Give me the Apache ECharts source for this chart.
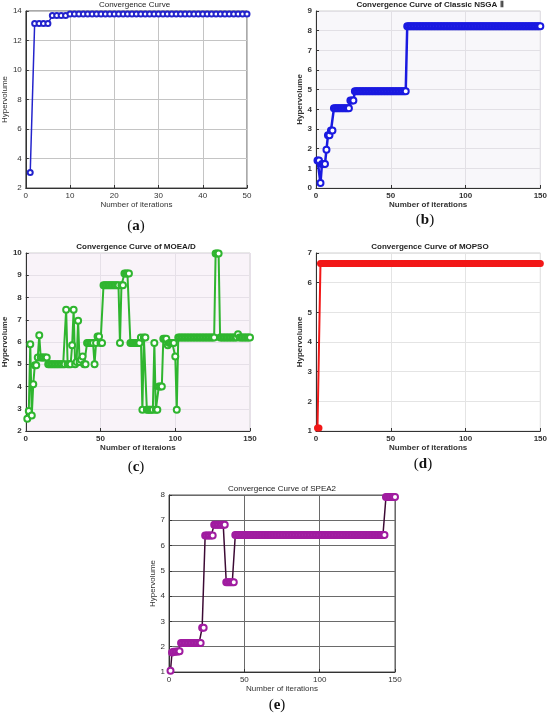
<!DOCTYPE html>
<html>
<head>
<meta charset="utf-8">
<script src="https://cdn.jsdelivr.net/npm/echarts@6/dist/echarts.min.js"></script>
<style>
html,body{margin:0;padding:0;background:#fff;}
#main{width:550px;height:721px;}
</style>
</head>
<body>
<div id="main"></div>
<script>
// hypervolume per iteration
var hvA = [
  3.05, 13.15, 13.15, 13.15, 13.15, 13.7, 13.7, 13.7, 13.7, 13.8,
  13.8, 13.8, 13.8, 13.8, 13.8, 13.8, 13.8, 13.8, 13.8, 13.8,
  13.8, 13.8, 13.8, 13.8, 13.8, 13.8, 13.8, 13.8, 13.8, 13.8,
  13.8, 13.8, 13.8, 13.8, 13.8, 13.8, 13.8, 13.8, 13.8, 13.8,
  13.8, 13.8, 13.8, 13.8, 13.8, 13.8, 13.8, 13.8, 13.8, 13.8
];
var hvB = [
  1.4, 1.4, 0.25, 1.22, 1.22, 1.22, 1.95, 2.68, 2.68, 2.92,
  2.92, 4.05, 4.05, 4.05, 4.05, 4.05, 4.05, 4.05, 4.05, 4.05,
  4.05, 4.05, 4.45, 4.45, 4.45, 4.92, 4.92, 4.92, 4.92, 4.92,
  4.92, 4.92, 4.92, 4.92, 4.92, 4.92, 4.92, 4.92, 4.92, 4.92,
  4.92, 4.92, 4.92, 4.92, 4.92, 4.92, 4.92, 4.92, 4.92, 4.92,
  4.92, 4.92, 4.92, 4.92, 4.92, 4.92, 4.92, 4.92, 4.92, 4.92,
  8.22, 8.22, 8.22, 8.22, 8.22, 8.22, 8.22, 8.22, 8.22, 8.22,
  8.22, 8.22, 8.22, 8.22, 8.22, 8.22, 8.22, 8.22, 8.22, 8.22,
  8.22, 8.22, 8.22, 8.22, 8.22, 8.22, 8.22, 8.22, 8.22, 8.22,
  8.22, 8.22, 8.22, 8.22, 8.22, 8.22, 8.22, 8.22, 8.22, 8.22,
  8.22, 8.22, 8.22, 8.22, 8.22, 8.22, 8.22, 8.22, 8.22, 8.22,
  8.22, 8.22, 8.22, 8.22, 8.22, 8.22, 8.22, 8.22, 8.22, 8.22,
  8.22, 8.22, 8.22, 8.22, 8.22, 8.22, 8.22, 8.22, 8.22, 8.22,
  8.22, 8.22, 8.22, 8.22, 8.22, 8.22, 8.22, 8.22, 8.22, 8.22,
  8.22, 8.22, 8.22, 8.22, 8.22, 8.22, 8.22, 8.22, 8.22, 8.22
];
var hvC = [
  2.55, 2.9, 5.9, 2.7, 4.1, 4.95, 4.95, 5.3, 6.3, 5.3,
  5.3, 5.3, 5.3, 5.3, 5.0, 5.0, 5.0, 5.0, 5.0, 5.0,
  5.0, 5.0, 5.0, 5.0, 5.0, 5.0, 7.45, 5.0, 5.0, 5.0,
  5.85, 7.45, 5.0, 5.1, 6.95, 5.1, 5.2, 5.35, 5.0, 5.0,
  5.95, 5.95, 5.95, 5.95, 5.95, 5.0, 5.95, 6.25, 6.25, 5.95,
  5.95, 8.55, 8.55, 8.55, 8.55, 8.55, 8.55, 8.55, 8.55, 8.55,
  8.55, 8.55, 5.95, 8.55, 8.55, 9.08, 9.08, 9.08, 9.08, 5.95,
  5.95, 5.95, 5.95, 5.95, 5.95, 5.95, 6.2, 2.95, 6.2, 6.2,
  2.95, 2.95, 2.95, 2.95, 2.95, 5.95, 2.95, 2.95, 4.0, 4.0,
  4.0, 6.15, 6.15, 6.15, 5.85, 5.95, 5.95, 5.95, 5.95, 5.35,
  2.95, 6.2, 6.2, 6.2, 6.2, 6.2, 6.2, 6.2, 6.2, 6.2,
  6.2, 6.2, 6.2, 6.2, 6.2, 6.2, 6.2, 6.2, 6.2, 6.2,
  6.2, 6.2, 6.2, 6.2, 6.2, 6.2, 9.98, 9.98, 9.98, 6.2,
  6.2, 6.2, 6.2, 6.2, 6.2, 6.2, 6.2, 6.2, 6.2, 6.2,
  6.2, 6.35, 6.2, 6.2, 6.2, 6.2, 6.2, 6.2, 6.2, 6.2
];
var hvD = [
  1.1, 1.1, 6.65, 6.65, 6.65, 6.65, 6.65, 6.65, 6.65, 6.65,
  6.65, 6.65, 6.65, 6.65, 6.65, 6.65, 6.65, 6.65, 6.65, 6.65,
  6.65, 6.65, 6.65, 6.65, 6.65, 6.65, 6.65, 6.65, 6.65, 6.65,
  6.65, 6.65, 6.65, 6.65, 6.65, 6.65, 6.65, 6.65, 6.65, 6.65,
  6.65, 6.65, 6.65, 6.65, 6.65, 6.65, 6.65, 6.65, 6.65, 6.65,
  6.65, 6.65, 6.65, 6.65, 6.65, 6.65, 6.65, 6.65, 6.65, 6.65,
  6.65, 6.65, 6.65, 6.65, 6.65, 6.65, 6.65, 6.65, 6.65, 6.65,
  6.65, 6.65, 6.65, 6.65, 6.65, 6.65, 6.65, 6.65, 6.65, 6.65,
  6.65, 6.65, 6.65, 6.65, 6.65, 6.65, 6.65, 6.65, 6.65, 6.65,
  6.65, 6.65, 6.65, 6.65, 6.65, 6.65, 6.65, 6.65, 6.65, 6.65,
  6.65, 6.65, 6.65, 6.65, 6.65, 6.65, 6.65, 6.65, 6.65, 6.65,
  6.65, 6.65, 6.65, 6.65, 6.65, 6.65, 6.65, 6.65, 6.65, 6.65,
  6.65, 6.65, 6.65, 6.65, 6.65, 6.65, 6.65, 6.65, 6.65, 6.65,
  6.65, 6.65, 6.65, 6.65, 6.65, 6.65, 6.65, 6.65, 6.65, 6.65,
  6.65, 6.65, 6.65, 6.65, 6.65, 6.65, 6.65, 6.65, 6.65, 6.65
];
var hvE = [
  1.05, 1.77, 1.8, 1.8, 1.81, 1.81, 1.82, 2.15, 2.15, 2.15,
  2.15, 2.15, 2.15, 2.15, 2.15, 2.15, 2.15, 2.15, 2.15, 2.15,
  2.15, 2.75, 2.75, 6.4, 6.4, 6.4, 6.4, 6.4, 6.4, 6.82,
  6.82, 6.82, 6.82, 6.82, 6.82, 6.82, 6.82, 4.55, 4.55, 4.55,
  4.55, 4.55, 4.55, 6.42, 6.42, 6.42, 6.42, 6.42, 6.42, 6.42,
  6.42, 6.42, 6.42, 6.42, 6.42, 6.42, 6.42, 6.42, 6.42, 6.42,
  6.42, 6.42, 6.42, 6.42, 6.42, 6.42, 6.42, 6.42, 6.42, 6.42,
  6.42, 6.42, 6.42, 6.42, 6.42, 6.42, 6.42, 6.42, 6.42, 6.42,
  6.42, 6.42, 6.42, 6.42, 6.42, 6.42, 6.42, 6.42, 6.42, 6.42,
  6.42, 6.42, 6.42, 6.42, 6.42, 6.42, 6.42, 6.42, 6.42, 6.42,
  6.42, 6.42, 6.42, 6.42, 6.42, 6.42, 6.42, 6.42, 6.42, 6.42,
  6.42, 6.42, 6.42, 6.42, 6.42, 6.42, 6.42, 6.42, 6.42, 6.42,
  6.42, 6.42, 6.42, 6.42, 6.42, 6.42, 6.42, 6.42, 6.42, 6.42,
  6.42, 6.42, 6.42, 6.42, 6.42, 6.42, 6.42, 6.42, 6.42, 6.42,
  6.42, 6.42, 6.42, 7.92, 7.92, 7.92, 7.92, 7.92, 7.92, 7.92
];

var titles = ['Convergence Curve', 'Convergence Curve of Classic NSGA Ⅱ', 'Convergence Curve of MOEA/D', 'Convergence Curve of MOPSO', 'Convergence Curve of SPEA2'];
var xNames = ['Number of iterations', 'Number of iterations', 'Number of iteraions', 'Number of iterations', 'Number of iterations'];
var yRanges = [[2, 14, 2], [0, 9, 1], [2, 10, 1], [1, 7, 1], [1, 8, 1]];
var xRanges = [[0, 50, 10], [0, 150, 50], [0, 150, 50], [0, 150, 50], [0, 150, 50]];
var panelTags = ['a', 'b', 'c', 'd', 'e'];

var FONT = '"Liberation Sans", Arial, sans-serif';

// layout of each panel: plot box, title spot, tag spot, y-name gap
var boxes = [
  {left: 22, top: 11, width: 225, height: 177, bg: '#ffffff', grid: '#c4c4c4', frame: '#555', bold: 'normal'},
  {left: 316, top: 11, width: 228, height: 177, bg: '#f8f7fa', grid: '#e2e0e5', frame: '#d0d0d0', bold: 'bold'},
  {left: 22, top: 253, width: 228, height: 178, bg: '#f9f3f9', grid: '#e6e0e8', frame: '#d0d0d0', bold: 'bold'},
  {left: 316, top: 253, width: 228, height: 178, bg: '#ffffff', grid: '#e4e4e4', frame: '#d0d0d0', bold: 'bold'},
  {left: 169, top: 495, width: 226, height: 177, bg: '#ffffff', grid: '#6a6a6a', frame: '#555', bold: 'normal'}
];
var tagPos = [[136, 226], [425, 220], [136, 467], [423, 464], [277, 705]];
var yGap = [12, 8, 12, 8, 8];

var seriesStyle = [
  {line: '#2323cc', item: '#2323cc', sym: 'emptyCircle', size: 5, lw: 1.5, bw: 1.5},
  {line: '#1a1ae0', item: '#1a1ae0', sym: 'emptyCircle', size: 6, lw: 2.5, bw: 2.5},
  {line: '#2fb52f', item: '#2fb52f', sym: 'emptyCircle', size: 6, lw: 2, bw: 2},
  {line: '#f21818', item: '#f21818', sym: 'circle', size: 7, lw: 2, bw: 0},
  {line: '#3c0a34', item: '#a01ca0', sym: 'emptyCircle', size: 6, lw: 1.5, bw: 3}
];
var allData = [hvA, hvB, hvC, hvD, hvE];

var grids = [], xAxes = [], yAxes = [], series = [], graphics = [];
boxes.forEach(function (b, i) {
  grids.push({
    left: b.left, top: b.top, width: b.width, height: b.height,
    show: true, backgroundColor: b.bg, borderColor: b.frame, borderWidth: 1
  });
  xAxes.push({
    type: 'value', gridIndex: i,
    min: xRanges[i][0], max: xRanges[i][1], interval: xRanges[i][2],
    name: xNames[i], nameLocation: 'middle', nameGap: 13,
    nameTextStyle: {fontFamily: FONT, fontSize: 8, color: '#333', fontWeight: b.bold},
    axisLine: {show: true, lineStyle: {color: '#333', width: 1}},
    axisTick: {show: true, inside: true, length: 3, lineStyle: {color: '#333'}},
    axisLabel: {fontFamily: FONT, fontSize: 8, color: '#333', margin: 4, fontWeight: b.bold},
    splitLine: {show: true, lineStyle: {color: b.grid, width: 1}}
  });
  yAxes.push({
    type: 'value', gridIndex: i,
    min: yRanges[i][0], max: yRanges[i][1], interval: yRanges[i][2],
    name: 'Hypervolume', nameLocation: 'middle', nameGap: yGap[i], nameRotate: 90,
    nameTextStyle: {fontFamily: FONT, fontSize: 8, color: '#333', fontWeight: b.bold},
    axisLine: {show: true, lineStyle: {color: '#333', width: 1}},
    axisTick: {show: true, inside: true, length: 3, lineStyle: {color: '#333'}},
    axisLabel: {fontFamily: FONT, fontSize: 8, color: '#333', margin: 4, fontWeight: b.bold},
    splitLine: {show: true, lineStyle: {color: b.grid, width: 1}}
  });
  var st = seriesStyle[i];
  series.push({
    type: 'line', xAxisIndex: i, yAxisIndex: i,
    data: allData[i].map(function (v, k) { return [k + 1, v]; }),
    symbol: st.sym, symbolSize: st.size, showAllSymbol: true,
    lineStyle: {color: st.line, width: st.lw},
    itemStyle: {color: st.item, borderColor: st.item, borderWidth: st.bw},
    z: 3
  });
  graphics.push({
    type: 'text', x: b.left + b.width / 2, y: b.top - 6,
    style: {text: titles[i], font: b.bold + ' 8px ' + FONT, fill: '#222', textAlign: 'center', textVerticalAlign: 'middle'}
  });
  graphics.push({
    type: 'text', x: tagPos[i][0], y: tagPos[i][1],
    style: {
      text: '({t|' + panelTags[i] + '})', textAlign: 'center', textVerticalAlign: 'middle',
      font: '15px "Liberation Serif", serif', fill: '#111',
      rich: {t: {fontFamily: '"Liberation Serif", serif', fontSize: 15, fontWeight: 'bold', fill: '#111'}}
    }
  });
});

var chart = echarts.init(document.getElementById('main'), null, {renderer: 'canvas'});
chart.setOption({
  backgroundColor: '#ffffff',
  animation: false,
  grid: grids,
  xAxis: xAxes,
  yAxis: yAxes,
  series: series,
  graphic: graphics
});
</script>
</body>
</html>
